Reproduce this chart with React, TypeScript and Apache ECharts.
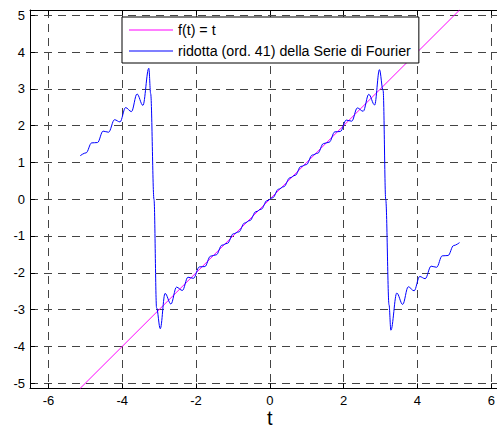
import React, { useEffect, useRef } from "react";
import * as echarts from "echarts";

// ---- data ----
const xTicks = [-6, -4, -2, 0, 2, 4, 6];
const yTicks = [-5, -4, -3, -2, -1, 0, 1, 2, 3, 4, 5];
const seriesNames = ["f(t) = t", "ridotta (ord. 41) della Serie di Fourier"];

const lineT = [-5.1416, 5.1416];
const lineY = [-5.1416, 5.1416];

const fourierT = [
  -5.14, -4.98, -4.83, -4.67, -4.52, -4.37, -4.21, -4.06, -3.91, -3.75, -3.6, -3.44, -3.28,
  -3.23, -3.14, -3.07,
  -2.97, -2.84, -2.68, -2.53, -2.37, -2.22, -2.07, -1.91, -1.76, -1.61, -1.45, -1.3, -1.15,
  -0.99, -0.84, -0.69, -0.54, -0.38, -0.23, -0.08,
  0.08, 0.23, 0.38, 0.54, 0.69, 0.84, 0.99, 1.15, 1.3, 1.45, 1.61, 1.76, 1.91, 2.07, 2.22,
  2.37, 2.53, 2.68, 2.84, 2.97,
  3.07, 3.14, 3.23,
  3.28, 3.44, 3.6, 3.75, 3.91, 4.06, 4.21, 4.37, 4.52, 4.67, 4.83, 4.98, 5.14,
];
const fourierY = [
  1.18, 1.26, 1.53, 1.54, 1.85, 1.82, 2.16, 2.1, 2.49, 2.38, 2.86, 2.55, 3.56,
  2.87, 0.0, -2.95,
  -3.52, -2.56, -2.85, -2.39, -2.48, -2.12, -2.15, -1.84, -1.83, -1.55, -1.51, -1.25, -1.2,
  -0.94, -0.89, -0.65, -0.58, -0.34, -0.27, -0.04,
  0.04, 0.27, 0.34, 0.58, 0.65, 0.89, 0.94, 1.2, 1.25, 1.51, 1.55, 1.83, 1.84, 2.15, 2.12,
  2.48, 2.39, 2.85, 2.56, 3.52,
  2.95, 0.0, -2.87,
  -3.56, -2.55, -2.86, -2.38, -2.49, -2.1, -2.16, -1.82, -1.85, -1.54, -1.53, -1.26, -1.18,
];

const FONT = "'Liberation Sans', Arial, sans-serif";

export default function App() {
  const ref = useRef<HTMLDivElement>(null);
  useEffect(() => {
    if (!ref.current) return;
    const chart = echarts.init(ref.current, undefined, { renderer: "svg" });
    const splitLine = {
      show: true,
      lineStyle: { color: "#444", width: 1, type: [8, 6] as any },
    };
    chart.setOption({
      animation: false,
      backgroundColor: "#fff",
      textStyle: { fontFamily: FONT },
      grid: {
        left: 30,
        top: 10,
        width: 479.7,
        height: 378.4,
        show: false,
        outerBoundsMode: "none",
        containLabel: false,
      },
      legend: {
        orient: "vertical",
        left: 122,
        top: 17,
        padding: [6, 8, 5, 7],
        itemGap: 7,
        itemWidth: 44,
        itemHeight: 1,
        icon: "rect",
        backgroundColor: "#fff",
        borderColor: "#000",
        borderWidth: 1,
        borderRadius: 0,
        textStyle: { fontFamily: FONT, fontSize: 14.25, color: "#000" },
        data: seriesNames,
      },
      xAxis: [
        {
          type: "value",
          min: -6.5,
          max: 6.5,
          position: "bottom",
          name: "t",
          nameLocation: "middle",
          nameGap: 20,
          nameMoveOverlap: false,
          nameTextStyle: { fontFamily: FONT, fontSize: 20, lineHeight: 20, color: "#000" },
          axisLine: { show: true, onZero: false, lineStyle: { color: "#000", width: 1 } },
          axisTick: { show: true, inside: true, length: 5, lineStyle: { color: "#000" }, customValues: xTicks },
          axisLabel: { show: true, margin: 6, fontFamily: FONT, fontSize: 13, color: "#000", customValues: xTicks },
          splitLine,
        },
        {
          type: "value",
          min: -6.5,
          max: 6.5,
          position: "top",
          axisLine: { show: true, onZero: false, lineStyle: { color: "#000", width: 1 } },
          axisTick: { show: true, inside: true, length: 5, lineStyle: { color: "#000" }, customValues: xTicks },
          axisLabel: { show: false },
          splitLine: { show: false },
        },
      ],
      yAxis: [
        {
          type: "value",
          min: -5.1416,
          max: 5.1416,
          position: "left",
          axisLine: { show: true, onZero: false, lineStyle: { color: "#000", width: 1 } },
          axisTick: { show: true, inside: true, length: 5, lineStyle: { color: "#000" }, customValues: yTicks },
          axisLabel: { show: true, margin: 5, fontFamily: FONT, fontSize: 13, color: "#000", customValues: yTicks },
          splitLine,
        },
      ],
      series: [
        {
          name: seriesNames[0],
          type: "line",
          xAxisIndex: 0,
          yAxisIndex: 0,
          data: lineT.map((t, i) => [t, lineY[i]]),
          symbol: "none",
          showSymbol: false,
          color: "#ff00ff",
          lineStyle: { color: "#ff00ff", width: 1 },
        },
        {
          name: seriesNames[1],
          type: "line",
          xAxisIndex: 0,
          yAxisIndex: 0,
          data: fourierT.map((t, i) => [t, fourierY[i]]),
          symbol: "none",
          showSymbol: false,
          smooth: 0.36,
          smoothMonotone: "x",
          color: "#0000ff",
          lineStyle: { color: "#0000ff", width: 1 },
        },
      ],
    });
    return () => chart.dispose();
  }, []);
  return (
    <div
      ref={ref}
      style={{ position: "fixed", left: 0, top: 0, width: 497, height: 431, background: "#fff" }}
    />
  );
}
